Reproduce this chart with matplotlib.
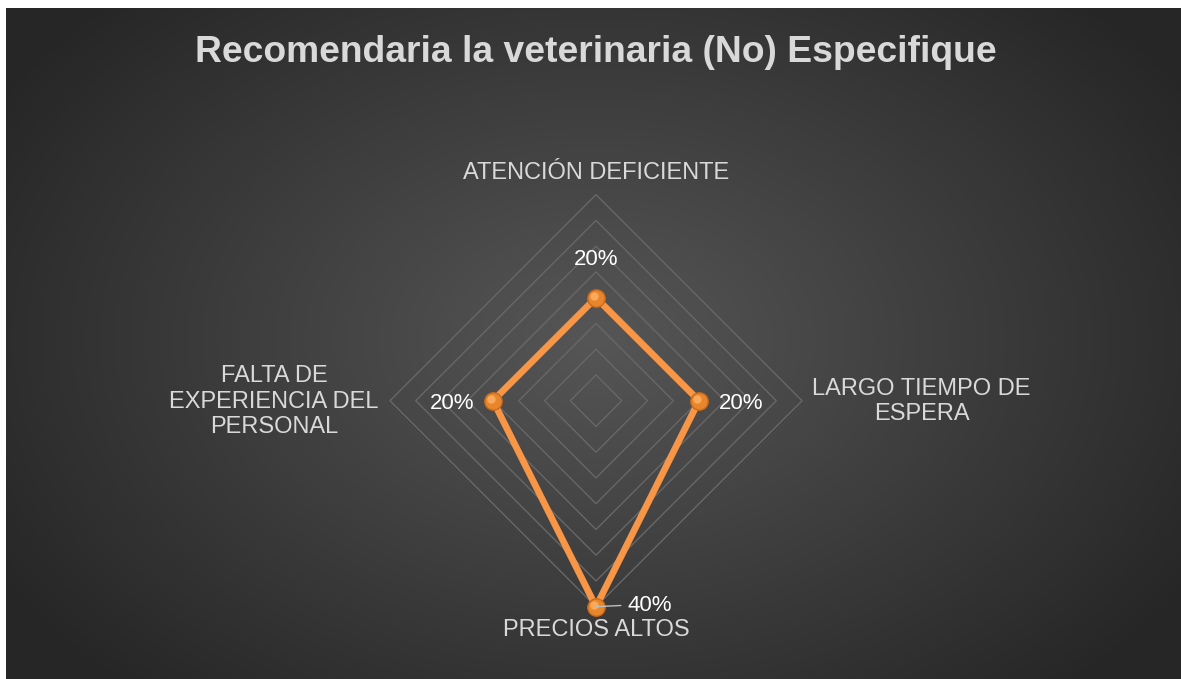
import numpy as np
import matplotlib.pyplot as plt
from matplotlib.patches import Polygon

plt.rcParams['font.family'] = ['Liberation Sans', 'DejaVu Sans']

categories = ["ATENCIÓN DEFICIENTE", "LARGO TIEMPO DE\nESPERA", "PRECIOS ALTOS",
              "FALTA DE\nEXPERIENCIA DEL\nPERSONAL"]
values = [0.20, 0.20, 0.40, 0.20]
value_labels = ["20%", "20%", "40%", "20%"]
grid_levels = [0.05, 0.10, 0.15, 0.20, 0.25, 0.30, 0.35, 0.40]
title = "Recomendaria la veterinaria (No) Especifique"

W, H = 1181, 679
fig = plt.figure(figsize=(W / 100, H / 100), dpi=100)
fig.patch.set_facecolor("white")

# background with radial gradient
bg = fig.add_axes([6 / W, 0, (W - 6) / W, (H - 8) / H])
bg.set_axis_off()
yy, xx = np.mgrid[0:671, 0:1175]
cx, cy = 590, 330
d = np.sqrt(((xx - cx) / 700.0) ** 2 + ((yy - cy) / 480.0) ** 2)
d = np.clip(d, 0, 1)
c0 = np.array([0x56, 0x56, 0x56]) / 255
c1 = np.array([0x26, 0x26, 0x26]) / 255
img = c0[None, None, :] * (1 - d[..., None]) + c1[None, None, :] * d[..., None]
bg.imshow(img, aspect="auto", extent=[0, 1, 0, 1])
bg.set_xlim(0, 1)
bg.set_ylim(0, 1)

# radar axes (cartesian, diamond grid)
R = 206
cxp, cyp = 596, 400.7
ax = fig.add_axes([(cxp - R) / W, (H - cyp - R) / H, 2 * R / W, 2 * R / H])
ax.set_xlim(-0.40, 0.40)
ax.set_ylim(-0.40, 0.40)
ax.set_axis_off()
ax.patch.set_alpha(0)

n = len(categories)
angles = np.arange(n) * 2 * np.pi / n  # clockwise from top
sx, sy = np.sin(angles), np.cos(angles)

for lv in grid_levels:
    ax.add_patch(Polygon(np.column_stack([lv * sx, lv * sy]), closed=True, fill=False,
                         edgecolor="#676767", lw=1.0, zorder=1, clip_on=False))

v = np.array(values)
ax.add_patch(Polygon(np.column_stack([v * sx, v * sy]), closed=True, fill=False,
                     edgecolor="#F79646", lw=4.8, joinstyle="round", zorder=3,
                     clip_on=False))
ax.plot(v * sx, v * sy, "o", ms=12.5, color="#E8862E", mec="#C9691A", mew=1.0,
        zorder=4, clip_on=False)
ax.plot(v * sx - 0.003, v * sy + 0.004, "o", ms=6, color="#FFB366", mew=0,
        alpha=0.8, zorder=5, clip_on=False)

# data labels
lab_off = [(0, 0.074), (0.082, -0.005), (0.105, 0.003), (-0.08, -0.005)]
for i in range(n):
    x0, y0 = v[i] * sx[i], v[i] * sy[i]
    dx, dy = lab_off[i]
    if i == 2:
        ax.annotate(value_labels[i], xy=(x0, y0), xytext=(x0 + dx, y0 + dy),
                    color="white", fontsize=16, ha="center", va="center",
                    arrowprops=dict(arrowstyle="-", color="#bfbfbf", lw=1,
                                    relpos=(0, 0.5), shrinkA=3, shrinkB=0),
                    annotation_clip=False, zorder=6)
    else:
        ax.text(x0 + dx, y0 + dy, value_labels[i], color="white", fontsize=16,
                ha="center", va="center", zorder=6, clip_on=False)

# category labels
cat_pos = [(0, 0.442), (0.632, -0.002), (0, -0.446), (-0.625, -0.002)]
for i in range(n):
    ax.text(cat_pos[i][0], cat_pos[i][1], categories[i], color="#d9d9d9",
            fontsize=17, ha="center", va="center", linespacing=1.2, clip_on=False)

fig.text(596 / W, 1 - 52 / H, title, color="#d9d9d9", fontsize=26.8,
         fontweight="bold", ha="center", va="center")

fig.savefig("out.png", dpi=100, facecolor=fig.get_facecolor())
